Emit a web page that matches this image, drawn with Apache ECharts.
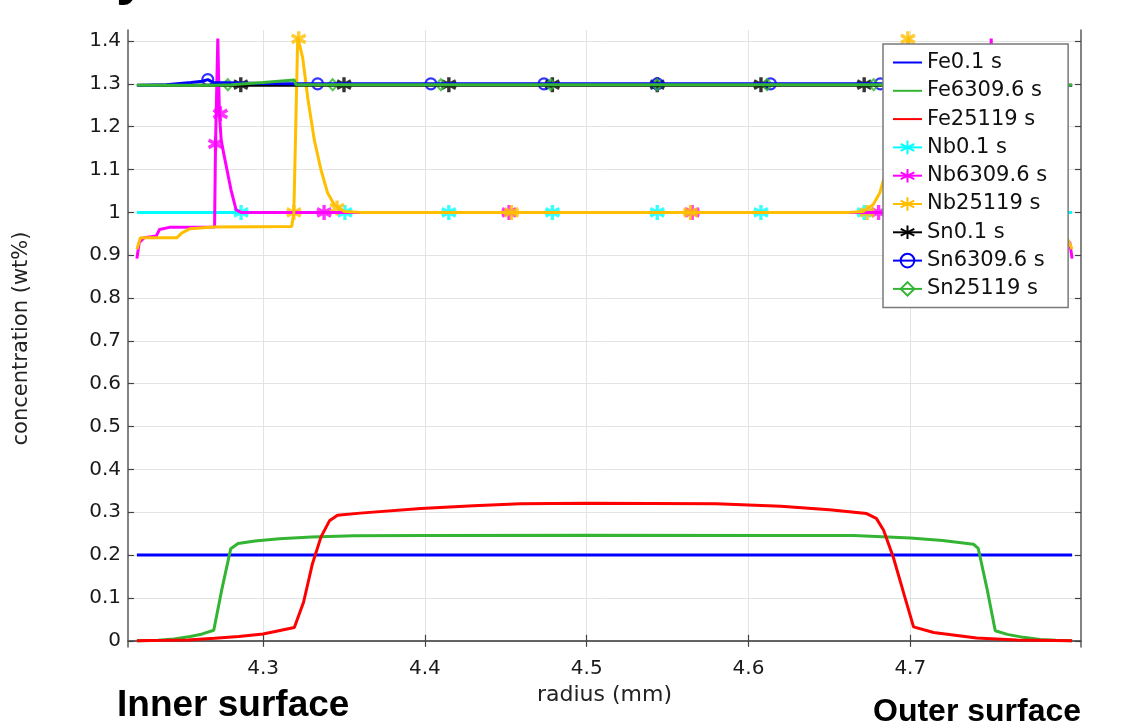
<!DOCTYPE html>
<html>
<head>
<meta charset="utf-8">
<script src="https://cdn.jsdelivr.net/npm/echarts@6.0.0/dist/echarts.min.js"></script>
<style>
  html, body { margin: 0; padding: 0; background: #fff; }
  #chart { width: 1133px; height: 727px; }
</style>
</head>
<body>
<div id="chart"></div>
<script>
// tick positions
var xTicks = [4.3, 4.4, 4.5, 4.6, 4.7];
var yTicks = [0, 0.1, 0.2, 0.3, 0.4, 0.5, 0.6, 0.7, 0.8, 0.9, 1, 1.1, 1.2, 1.3, 1.4];

// Fe profiles  [radius, conc]
var fe01 = [[4.222, 0.2], [4.8, 0.2]];
var fe6309 = [[4.222, 0], [4.235, 0.001], [4.245, 0.004], [4.255, 0.010], [4.2625, 0.016], [4.2695, 0.0245],
  [4.2745, 0.12], [4.2800, 0.215], [4.2845, 0.227], [4.295, 0.233], [4.31, 0.238], [4.33, 0.242], [4.356, 0.245],
  [4.40, 0.246], [4.5, 0.2465], [4.62, 0.246], [4.665, 0.2455], [4.70, 0.24], [4.72, 0.234], [4.739, 0.2255],
  [4.742, 0.2155], [4.7475, 0.12], [4.7525, 0.0235], [4.76, 0.015], [4.77, 0.008], [4.78, 0.003], [4.79, 0.001], [4.8, 0]];
var fe25119 = [[4.222, 0], [4.24, 0.001], [4.2535, 0.002], [4.27, 0.006], [4.285, 0.01], [4.30, 0.0157], [4.3193, 0.031],
  [4.325, 0.09], [4.3305, 0.18], [4.3358, 0.2425], [4.341, 0.28], [4.346, 0.293], [4.36, 0.298], [4.3975, 0.309],
  [4.43, 0.315], [4.459, 0.320], [4.5, 0.321], [4.58, 0.32], [4.62, 0.314], [4.65, 0.306], [4.673, 0.297],
  [4.679, 0.2857], [4.6835, 0.258], [4.6895, 0.195], [4.696, 0.11], [4.702, 0.0325], [4.7144, 0.0195],
  [4.73, 0.012], [4.741, 0.0065], [4.7658, 0.0016], [4.8, 0]];

// Nb profiles
var nb01 = [[4.222, 1.0], [4.8, 1.0]];
var nb6309 = [[4.222, 0.892], [4.2234, 0.929], [4.2265, 0.941], [4.234, 0.945], [4.236, 0.96], [4.242, 0.965],
  [4.2700, 0.966], [4.2706, 1.16], [4.2720, 1.406], [4.2730, 1.23], [4.2741, 1.168], [4.2761, 1.129],
  [4.2802, 1.052], [4.2833, 1.006], [4.2864, 1.0], [4.7356, 1.0], [4.7387, 1.006], [4.7418, 1.052],
  [4.7459, 1.129], [4.7479, 1.168], [4.7490, 1.23], [4.7500, 1.406], [4.7514, 1.16], [4.7520, 0.966],
  [4.780, 0.965], [4.786, 0.96], [4.788, 0.945], [4.7955, 0.941], [4.7986, 0.929], [4.8, 0.892]];
var nb25119 = [[4.222, 0.914], [4.2242, 0.941], [4.2468, 0.941], [4.2498, 0.952], [4.2550, 0.962], [4.2693, 0.966],
  [4.3177, 0.967], [4.3190, 1.0], [4.3214, 1.41], [4.3245, 1.36], [4.3276, 1.267], [4.3317, 1.168],
  [4.3358, 1.099], [4.3399, 1.045], [4.3440, 1.018], [4.3502, 1.002], [4.36, 1.0], [4.662, 1.0],
  [4.6708, 1.002], [4.677, 1.018], [4.6811, 1.045], [4.6852, 1.099], [4.6893, 1.168], [4.6934, 1.267],
  [4.6965, 1.36], [4.6990, 1.41], [4.7015, 1.0], [4.7033, 0.967], [4.7517, 0.966], [4.766, 0.962],
  [4.7712, 0.952], [4.7742, 0.941], [4.7968, 0.941], [4.8, 0.914]];

// Sn profiles
var sn01 = [[4.222, 1.297], [4.8, 1.297]];
var sn6309 = [[4.222, 1.296], [4.24, 1.298], [4.2555, 1.303], [4.2625, 1.306], [4.2658, 1.31], [4.2695, 1.303],
  [4.30, 1.301], [4.32, 1.300], [4.70, 1.300], [4.7515, 1.303], [4.7555, 1.31], [4.76, 1.306], [4.78, 1.298], [4.8, 1.296]];
var sn25119 = [[4.222, 1.297], [4.27, 1.297], [4.2802, 1.298], [4.30, 1.303], [4.3193, 1.309], [4.3203, 1.298],
  [4.35, 1.298], [4.70, 1.298], [4.7017, 1.309], [4.72, 1.303], [4.74, 1.298], [4.8, 1.297]];

// marker positions
var nb01Marks = [[4.2864, 1], [4.3506, 1], [4.4148, 1], [4.4788, 1], [4.5436, 1], [4.6077, 1], [4.6715, 1], [4.7357, 1]];
var nb6309Marks = [[4.2706, 1.16], [4.2736, 1.23], [4.3377, 1], [4.4520, 1], [4.5652, 1], [4.6804, 1], [4.7484, 1.23], [4.7514, 1.16]];
var nb25119Marks = [[4.3190, 1], [4.3220, 1.405], [4.3457, 1.01], [4.4535, 1], [4.5642, 1], [4.6733, 1], [4.6985, 1.405], [4.7015, 1]];
var sn01Marks = [[4.2862, 1.298], [4.3500, 1.298], [4.4148, 1.298], [4.4788, 1.298], [4.5436, 1.298], [4.6077, 1.298], [4.6715, 1.298], [4.7357, 1.298]];
var sn6309Marks = [[4.2658, 1.31], [4.3337, 1.3], [4.4037, 1.3], [4.4736, 1.3], [4.5436, 1.3], [4.6136, 1.3], [4.6815, 1.3], [4.7515, 1.3]];
var sn25119Marks = [[4.2782, 1.298], [4.3430, 1.298], [4.4099, 1.298], [4.4778, 1.298], [4.5436, 1.298], [4.6115, 1.298], [4.6774, 1.298]];

var names = ['Fe0.1 s', 'Fe6309.6 s', 'Fe25119 s', 'Nb0.1 s', 'Nb6309.6 s', 'Nb25119 s', 'Sn0.1 s', 'Sn6309.6 s', 'Sn25119 s'];

var STAR = 'path://M5,0L5,10M0.67,2.5L9.33,7.5M0.67,7.5L9.33,2.5';
var FONT = 'DejaVu Sans';

// one entry per curve: data, marks, colour, symbol
var curves = [
  { d: fe01, m: null, c: '#0000ff', s: 'none' },
  { d: fe6309, m: null, c: '#33b533', s: 'none' },
  { d: fe25119, m: null, c: '#ff0000', s: 'none' },
  { d: nb01, m: nb01Marks, c: '#00ffff', s: STAR },
  { d: nb6309, m: nb6309Marks, c: '#ff00ff', s: STAR },
  { d: nb25119, m: nb25119Marks, c: '#ffbf00', s: STAR },
  { d: sn01, m: sn01Marks, c: '#000000', s: STAR },
  { d: sn6309, m: sn6309Marks, c: '#0000ff', s: 'circle' },
  { d: sn25119, m: sn25119Marks, c: '#33b533', s: 'diamond' }
];

function symSize(s) {
  if (s === 'circle') return 11;
  if (s === 'diamond') return [10, 11];
  return [14, 15];
}
function symStyle(cv) {
  if (cv.s === 'none') return { color: 'rgba(255,255,255,0)', borderWidth: 0 };
  var w = cv.s === STAR ? 3.5 : 2.2;
  return { color: 'rgba(255,255,255,0)', borderColor: cv.c, borderWidth: w };
}

var series = [];
curves.forEach(function (cv, i) {
  series.push({
    name: names[i], type: 'line', data: cv.d, xAxisIndex: 0, yAxisIndex: 0,
    showSymbol: false, symbol: cv.s, symbolSize: symSize(cv.s),
    itemStyle: symStyle(cv),
    lineStyle: { color: cv.c, width: 3 },
    animation: false, silent: true
  });
});
curves.forEach(function (cv, i) {
  if (!cv.m) return;
  series.push({
    name: names[i], type: 'scatter', data: cv.m, xAxisIndex: 0, yAxisIndex: 0,
    symbol: cv.s, symbolSize: symSize(cv.s), itemStyle: symStyle(cv),
    animation: false, silent: true
  });
});

var frame = { show: true, lineStyle: { color: '#5a5a5a', width: 1.5 } };
var tickStyle = { color: '#444', width: 1.2 };

var option = {
  backgroundColor: '#fff',
  animation: false,
  grid: { left: 128, right: 52, top: 30, bottom: 80, containLabel: false },
  xAxis: [{
    type: 'value', min: 4.2165, max: 4.8055, position: 'bottom',
    axisLine: frame,
    axisTick: { inside: true, length: 6, customValues: xTicks, lineStyle: tickStyle },
    axisLabel: { customValues: xTicks, fontSize: 20, fontFamily: FONT, color: '#1a1a1a', margin: 12 },
    splitLine: { show: true, lineStyle: { color: '#e3e3e3', width: 1 } },
    name: 'radius (mm)', nameLocation: 'middle', nameGap: 33,
    nameTextStyle: { fontSize: 22, fontFamily: FONT, color: '#222' }
  }, {
    type: 'value', min: 4.2165, max: 4.8055, position: 'top',
    axisLine: frame,
    axisTick: { inside: true, length: 6, customValues: xTicks, lineStyle: tickStyle },
    axisLabel: { show: false }, splitLine: { show: false }
  }],
  yAxis: [{
    type: 'value', min: -0.0145, max: 1.4257, position: 'left',
    axisLine: frame,
    axisTick: { inside: true, length: 6, customValues: yTicks, lineStyle: tickStyle },
    axisLabel: { customValues: yTicks, fontSize: 20, fontFamily: FONT, color: '#1a1a1a', margin: 7 },
    splitLine: { show: true, lineStyle: { color: '#e3e3e3', width: 1 } },
    name: 'concentration (wt%)', nameLocation: 'middle', nameGap: 96,
    nameTextStyle: { fontSize: 21, fontFamily: FONT, color: '#222' }
  }, {
    type: 'value', min: -0.0145, max: 1.4257, position: 'right',
    axisLine: frame,
    axisTick: { inside: true, length: 6, customValues: yTicks, lineStyle: tickStyle },
    axisLabel: { show: false }, splitLine: { show: false }
  }],
  legend: {
    data: names, orient: 'vertical', left: 883, top: 44,
    padding: [8, 21, 8, 9], itemGap: 7.3, itemWidth: 29, itemHeight: 17,
    backgroundColor: '#fff', borderColor: '#7a7a7a', borderWidth: 1.5, borderRadius: 0,
    selectedMode: false,
    lineStyle: { width: 2 },
    textStyle: { fontSize: 21, lineHeight: 21, fontFamily: FONT, color: '#111' }
  },
  graphic: [
    { type: 'text', left: 117, top: 687, style: { text: 'Inner surface', font: 'bold 37px "Liberation Sans", Arial, sans-serif', fill: '#000' } },
    { type: 'text', left: 873, top: 696, style: { text: 'Outer surface', font: 'bold 32px "Liberation Sans", Arial, sans-serif', fill: '#000' } },
    { type: 'text', left: 116, top: -50, style: { text: 'y', font: 'bold 56px "Liberation Sans", Arial, sans-serif', fill: '#000' } }
  ],
  series: series
};

var myChart = echarts.init(document.getElementById('chart'));
myChart.setOption(option);
</script>
</body>
</html>
